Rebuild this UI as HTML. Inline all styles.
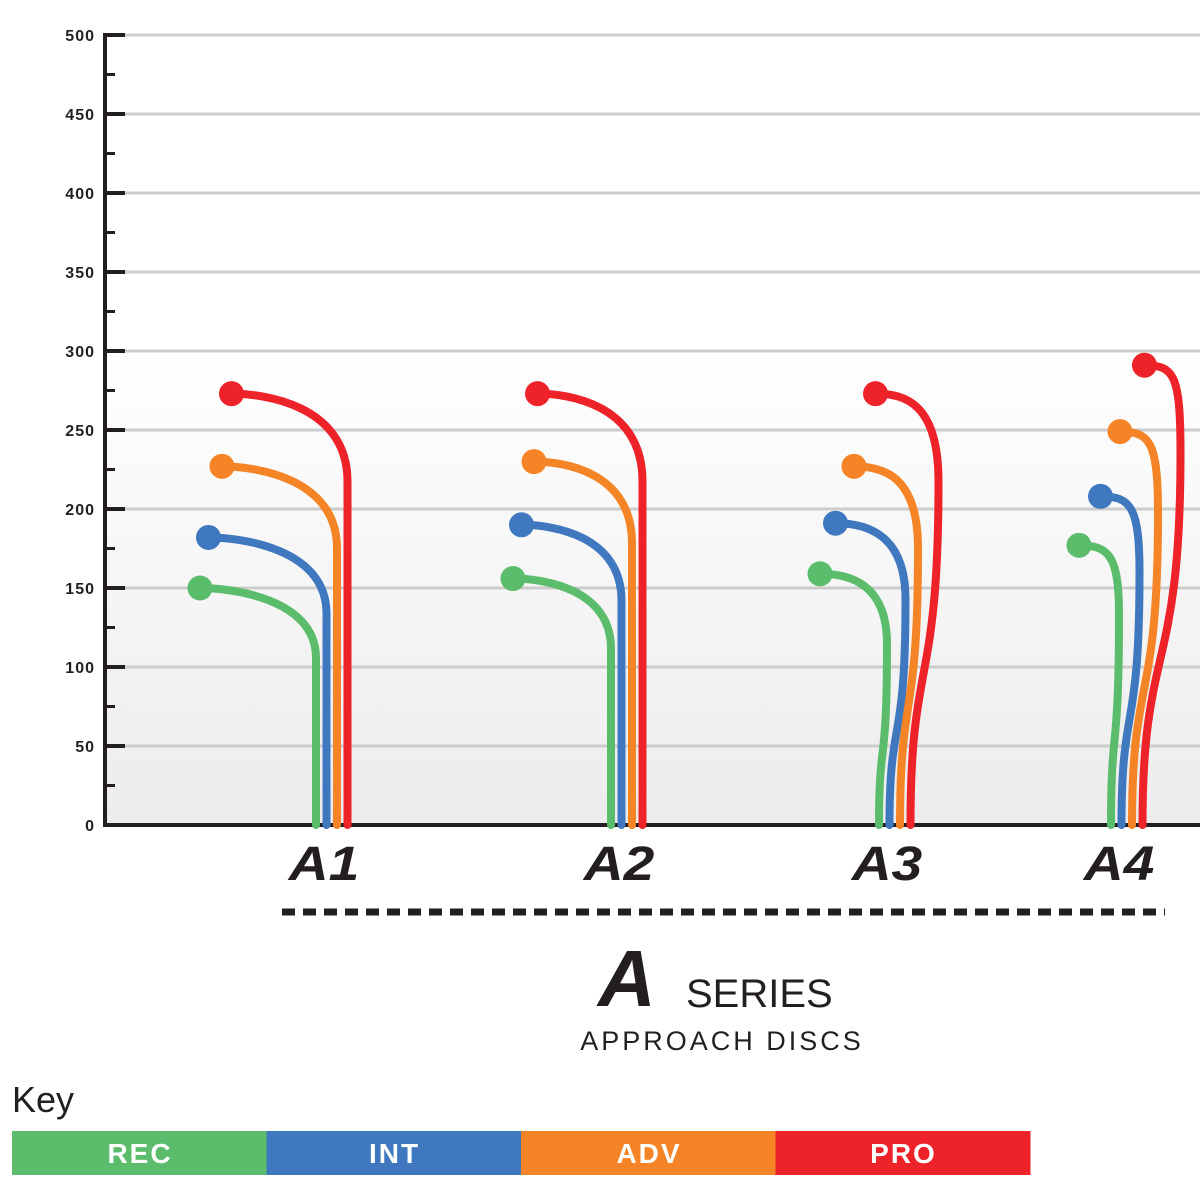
<!DOCTYPE html>
<html><head><meta charset="utf-8"><style>
html,body{margin:0;padding:0;background:#fff;}
svg{display:block;font-family:"Liberation Sans",sans-serif;}
</style></head><body>
<svg id="chart" width="1200" height="1200" viewBox="0 0 1200 1200">
<defs>
<linearGradient id="bg" x1="0" y1="0" x2="0" y2="1">
<stop offset="0" stop-color="#ffffff"/><stop offset="1" stop-color="#ececec"/>
</linearGradient>
</defs>
<rect x="105" y="350" width="1095" height="475" fill="url(#bg)"/>
<g id="grid"></g>
<g id="axis"></g>
<g id="flights"></g>
<g id="cats"></g>
<line x1="282" y1="912" x2="1165" y2="912" stroke="#231f20" stroke-width="7" stroke-dasharray="13,8"/>
<g>
<text x="598" y="1006" font-size="80" font-weight="900" font-style="italic" fill="#231f20">A</text>
<text x="686" y="1007" font-size="40" fill="#231f20">SERIES</text>
<text x="722" y="1050" font-size="27" text-anchor="middle" letter-spacing="3" fill="#231f20">APPROACH DISCS</text>
</g>
<text x="12" y="1112" font-size="36" fill="#231f20">Key</text>
<g id="key"></g>
</svg>
<script>
const discs = ["A1","A2","A3","A4"];
const plastics = ["REC","INT","ADV","PRO"];
const colors = ["#5bbd6b","#3f78bf","#f58426","#ee2229"];
const distREC = [150,156,159,177];
const distINT = [182,190,191,208];
const distADV = [227,230,227,249];
const distPRO = [273,273,273,291];
const fadeREC = [-116,-98,-59,-32];
const fadeINT = [-118,-100,-54,-21];
const fadeADV = [-115,-98,-46,-12];
const fadePRO = [-116,-105,-35,2];
const turnREC = [0,0,8,8];
const turnINT = [0,0,16,18];
const turnADV = [0,0,18,26];
const turnPRO = [0,0,28,38];
const yTicks = [0,50,100,150,200,250,300,350,400,450,500];
const dists=[distREC,distINT,distADV,distPRO], fades=[fadeREC,fadeINT,fadeADV,fadePRO], turns=[turnREC,turnINT,turnADV,turnPRO];
const NS="http://www.w3.org/2000/svg";
function y(v){return 825 - v*1.58;}
function catX(i){return [330,625,893,1125][i];}
function baseX(i,p){return catX(i)-14+p*10.5;}
function mk(t,a,parent){const e=document.createElementNS(NS,t);for(const k in a)e.setAttribute(k,a[k]);parent.appendChild(e);return e;}
const grid=document.getElementById('grid'),axis=document.getElementById('axis');
yTicks.forEach(v=>{
 if(v>0){const l=mk('line',{x1:125,x2:1200,y1:y(v),y2:y(v),stroke:'#cccccc','stroke-width':3},grid);
 
 }
 const t=mk('line',{x1:105,x2:125,y1:y(v),y2:y(v),stroke:'#231f20','stroke-width':4},axis);
 
 
 if(v<500){const m=mk('line',{x1:105,x2:115,y1:y(v+25),y2:y(v+25),stroke:'#231f20','stroke-width':3},axis);
 
 }
 const tx=mk('text',{x:95,y:y(v)+6,'text-anchor':'end','font-size':16,'font-weight':'bold','letter-spacing':1,fill:'#231f20'},axis);
 tx.textContent=v;
 
 
});
const ya=mk('line',{x1:105,x2:105,y1:33,y2:827,stroke:'#231f20','stroke-width':4},axis);


const xa=mk('line',{x1:103,x2:1200,y1:825,y2:825,stroke:'#231f20','stroke-width':4},axis);


const fl=document.getElementById('flights');
discs.forEach((d,i)=>{
 plastics.forEach((p,j)=>{
  const bx=baseX(i,j), dy=y(dists[j][i]), dx=bx+fades[j][i], tx=bx+turns[j][i];
  const knee=dy+50+j*6+20;
  const midY=(825+knee)/2;
  const path=`M${bx},825 C${bx},${midY} ${tx},${midY+40} ${tx},${knee} C${tx},${dy+10} ${dx+30},${dy} ${dx},${dy}`;
  const pe=mk('path',{d:path,fill:'none',stroke:colors[j],'stroke-width':8,'stroke-linecap':'round'},fl);
  
  
  const c=mk('circle',{cx:dx,cy:dy,r:12.5,fill:colors[j]},fl);
  
  
 });
 const cx=catX(i)-6;
 const t=mk('text',{x:cx,y:880,'text-anchor':'middle','font-size':48,'font-weight':'900','font-style':'italic',fill:'#231f20',transform:`translate(${cx},0) scale(1.15,1) translate(${-cx},0)`},document.getElementById('cats'));
 t.textContent=d;
 
 
});
const key=document.getElementById('key');
plastics.forEach((p,j)=>{
 const x0=12+j*254.5;
 const r=mk('rect',{x:x0,y:1131,width:255,height:44,fill:colors[j]},key);
 
 
 const t=mk('text',{x:x0+128,y:1163,'text-anchor':'middle','font-size':28,'font-weight':'bold','letter-spacing':2,fill:'#fff'},key);
 t.textContent=p;
 
 
});
</script>
</body></html>
